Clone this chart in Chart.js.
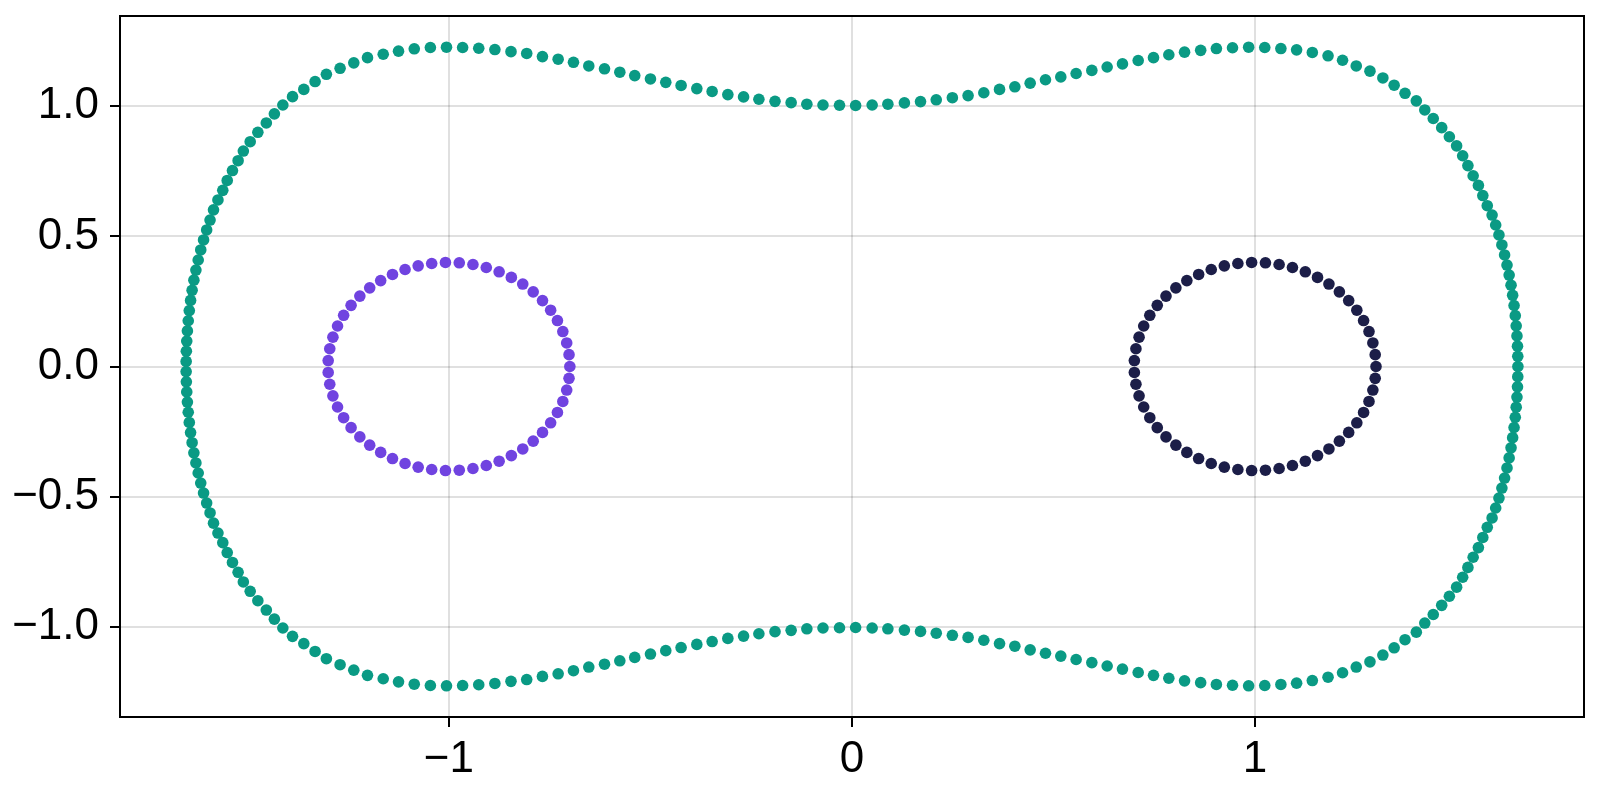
<!DOCTYPE html>
<html>
<head>
<meta charset="utf-8">
<script src="https://cdn.jsdelivr.net/npm/chart.js@4.4.0/dist/chart.umd.min.js"></script>
<style>
  html, body { margin: 0; padding: 0; background: #ffffff; }
  #wrap { width: 1600px; height: 800px; }
</style>
</head>
<body>
<div id="wrap"><canvas id="chart" width="1600" height="800"></canvas></div>
<script>
// outer boundary (teal)
var outerX = [
  1.652, 1.6517, 1.651, 1.6497, 1.6478, 1.6455, 1.6425, 1.639, 1.635, 1.6303, 1.625, 1.619, 1.6123, 1.605, 1.5969, 1.588,
  1.576, 1.565, 1.554, 1.541, 1.528, 1.515, 1.5, 1.482, 1.463, 1.442, 1.421, 1.4, 1.372, 1.345, 1.317, 1.285,
  1.251, 1.217, 1.181, 1.142, 1.103, 1.064, 1.024, 0.984, 0.944, 0.904, 0.865, 0.825, 0.786, 0.748, 0.71, 0.671,
  0.633, 0.595, 0.556, 0.518, 0.48, 0.442, 0.404, 0.366, 0.327, 0.288, 0.249, 0.209, 0.17, 0.13, 0.089, 0.05, 0.009,
  -0.031, -0.072, -0.112, -0.151, -0.191, -0.231, -0.269, -0.308, -0.347, -0.385, -0.424, -0.462, -0.5, -0.539, -0.576, -0.614,
  -0.653, -0.691, -0.729, -0.768, -0.807, -0.846, -0.886, -0.926, -0.966, -1.006, -1.046, -1.086, -1.125, -1.163, -1.202, -1.236,
  -1.27, -1.304, -1.332, -1.36, -1.388, -1.412, -1.433, -1.453, -1.474, -1.493, -1.51, -1.523, -1.537, -1.55, -1.561, -1.573,
  -1.584, -1.5926, -1.601, -1.6087, -1.6157, -1.622, -1.6277, -1.6327, -1.6371, -1.6409, -1.6441, -1.6467, -1.6488, -1.6504, -1.6514, -1.6519,
  -1.6519, -1.6514, -1.6504, -1.6488, -1.6467, -1.6441, -1.6409, -1.6371, -1.6327, -1.6277, -1.622, -1.6157, -1.6087, -1.601, -1.5926, -1.584,
  -1.573, -1.561, -1.55, -1.537, -1.523, -1.51, -1.493, -1.474, -1.453, -1.433, -1.412, -1.388, -1.36, -1.332, -1.304, -1.27,
  -1.236, -1.202, -1.163, -1.125, -1.086, -1.046, -1.006, -0.966, -0.926, -0.886, -0.846, -0.807, -0.768, -0.729, -0.691, -0.653,
  -0.614, -0.576, -0.539, -0.5, -0.462, -0.424, -0.385, -0.347, -0.308, -0.269, -0.231, -0.191, -0.151, -0.112, -0.072, -0.031,
  0.009, 0.05, 0.089, 0.13, 0.17, 0.209, 0.249, 0.288, 0.327, 0.366, 0.404, 0.442, 0.48, 0.518, 0.556, 0.595,
  0.633, 0.671, 0.71, 0.748, 0.786, 0.825, 0.865, 0.904, 0.944, 0.984, 1.024, 1.064, 1.103, 1.142, 1.181, 1.217,
  1.251, 1.285, 1.317, 1.345, 1.372, 1.4, 1.421, 1.442, 1.463, 1.482, 1.5, 1.515, 1.528, 1.541, 1.554, 1.565,
  1.576, 1.588, 1.5969, 1.605, 1.6123, 1.619, 1.625, 1.6303, 1.635, 1.639, 1.6425, 1.6455, 1.6478, 1.6497, 1.651, 1.6517
];
var outerY = [
  0, 0.0391, 0.0782, 0.1174, 0.1564, 0.1955, 0.2345, 0.2734, 0.3124, 0.3513, 0.3899, 0.4286, 0.4671, 0.5056, 0.5438, 0.582,
  0.618, 0.657, 0.696, 0.733, 0.772, 0.81, 0.848, 0.883, 0.918, 0.953, 0.986, 1.021, 1.05, 1.081, 1.109, 1.135,
  1.155, 1.177, 1.194, 1.207, 1.217, 1.222, 1.226, 1.227, 1.225, 1.222, 1.215, 1.208, 1.198, 1.187, 1.176, 1.163,
  1.151, 1.138, 1.126, 1.113, 1.102, 1.089, 1.075, 1.065, 1.052, 1.041, 1.033, 1.025, 1.018, 1.013, 1.008, 1.005, 1.003,
  1.004, 1.005, 1.008, 1.014, 1.019, 1.027, 1.036, 1.045, 1.057, 1.068, 1.08, 1.092, 1.105, 1.118, 1.131, 1.144,
  1.155, 1.169, 1.181, 1.191, 1.203, 1.21, 1.218, 1.223, 1.226, 1.227, 1.226, 1.221, 1.212, 1.2, 1.187, 1.167,
  1.146, 1.123, 1.095, 1.065, 1.037, 1.005, 0.971, 0.936, 0.9, 0.864, 0.828, 0.791, 0.753, 0.715, 0.677, 0.64,
  0.602, 0.5628, 0.5247, 0.4863, 0.4479, 0.4093, 0.3706, 0.3318, 0.2929, 0.254, 0.215, 0.1759, 0.1368, 0.0978, 0.0587, 0.0196,
  -0.0196, -0.0587, -0.0978, -0.1368, -0.1759, -0.215, -0.254, -0.2929, -0.3318, -0.3706, -0.4093, -0.4479, -0.4863, -0.5247, -0.5628, -0.602,
  -0.64, -0.677, -0.715, -0.753, -0.791, -0.828, -0.864, -0.9, -0.936, -0.971, -1.005, -1.037, -1.065, -1.095, -1.123, -1.146,
  -1.167, -1.187, -1.2, -1.212, -1.221, -1.226, -1.227, -1.226, -1.223, -1.218, -1.21, -1.203, -1.191, -1.181, -1.169, -1.155,
  -1.144, -1.131, -1.118, -1.105, -1.092, -1.08, -1.068, -1.057, -1.045, -1.036, -1.027, -1.019, -1.014, -1.008, -1.005, -1.004,
  -1.003, -1.005, -1.008, -1.013, -1.018, -1.025, -1.033, -1.041, -1.052, -1.065, -1.075, -1.089, -1.102, -1.113, -1.126, -1.138,
  -1.151, -1.163, -1.176, -1.187, -1.198, -1.208, -1.215, -1.222, -1.225, -1.227, -1.226, -1.222, -1.217, -1.207, -1.194, -1.177,
  -1.155, -1.135, -1.109, -1.081, -1.05, -1.021, -0.986, -0.953, -0.918, -0.883, -0.848, -0.81, -0.772, -0.733, -0.696, -0.657,
  -0.618, -0.582, -0.5438, -0.5056, -0.4671, -0.4286, -0.3899, -0.3513, -0.3124, -0.2734, -0.2345, -0.1955, -0.1564, -0.1174, -0.0782, -0.0391
];

// left hole (purple)
var leftX = [
  -0.7, -0.702, -0.7078, -0.7174, -0.7308, -0.7476, -0.7678, -0.7909, -0.8168, -0.8451, -0.8754, -0.9073, -0.9404, -0.9743,
  -1.0086, -1.0427, -1.0763, -1.1088, -1.14, -1.1693, -1.1965, -1.221, -1.2427, -1.2612, -1.2763, -1.2878, -1.2956, -1.2995,
  -1.2995, -1.2956, -1.2878, -1.2763, -1.2612, -1.2427, -1.221, -1.1965, -1.1693, -1.14, -1.1088, -1.0763, -1.0427, -1.0086,
  -0.9743, -0.9404, -0.9073, -0.8754, -0.8451, -0.8168, -0.7909, -0.7678, -0.7476, -0.7308, -0.7174, -0.7078, -0.702
];
var leftY = [
  0, 0.0456, 0.0906, 0.1344, 0.1765, 0.2163, 0.2532, 0.2869, 0.3168, 0.3425, 0.3639, 0.3804, 0.392, 0.3985,
  0.3998, 0.3959, 0.3869, 0.3727, 0.3538, 0.3302, 0.3023, 0.2705, 0.2351, 0.1967, 0.1557, 0.1127, 0.0682, 0.0228,
  -0.0228, -0.0682, -0.1127, -0.1557, -0.1967, -0.2351, -0.2705, -0.3023, -0.3302, -0.3538, -0.3727, -0.3869, -0.3959, -0.3998,
  -0.3985, -0.392, -0.3804, -0.3639, -0.3425, -0.3168, -0.2869, -0.2532, -0.2163, -0.1765, -0.1344, -0.0906, -0.0456
];

// right hole (navy)
var rightX = [
  1.3, 1.298, 1.2922, 1.2826, 1.2692, 1.2524, 1.2322, 1.2091, 1.1832, 1.1549, 1.1246, 1.0927, 1.0596, 1.0257,
  0.9914, 0.9573, 0.9237, 0.8912, 0.86, 0.8307, 0.8035, 0.779, 0.7573, 0.7388, 0.7237, 0.7122, 0.7044, 0.7005,
  0.7005, 0.7044, 0.7122, 0.7237, 0.7388, 0.7573, 0.779, 0.8035, 0.8307, 0.86, 0.8912, 0.9237, 0.9573, 0.9914,
  1.0257, 1.0596, 1.0927, 1.1246, 1.1549, 1.1832, 1.2091, 1.2322, 1.2524, 1.2692, 1.2826, 1.2922, 1.298
];
var rightY = [
  0, 0.0456, 0.0906, 0.1344, 0.1765, 0.2163, 0.2532, 0.2869, 0.3168, 0.3425, 0.3639, 0.3804, 0.392, 0.3985,
  0.3998, 0.3959, 0.3869, 0.3727, 0.3538, 0.3302, 0.3023, 0.2705, 0.2351, 0.1967, 0.1557, 0.1127, 0.0682, 0.0228,
  -0.0228, -0.0682, -0.1127, -0.1557, -0.1967, -0.2351, -0.2705, -0.3023, -0.3302, -0.3538, -0.3727, -0.3869, -0.3959, -0.3998,
  -0.3985, -0.392, -0.3804, -0.3639, -0.3425, -0.3168, -0.2869, -0.2532, -0.2163, -0.1765, -0.1344, -0.0906, -0.0456
];

var xTicks = [-1, 0, 1];
var yTicks = [-1, -0.5, 0, 0.5, 1];

function toPoints(xs, ys) {
  return xs.map(function (x, i) {
    return { x: x, y: ys[i] };
  });
}

// tick labels use a real minus sign
function fmt(v, digits) {
  var s = digits ? Number(v).toFixed(digits) : String(v);
  return s.replace('-', '\u2212');
}

function dotSet(label, xs, ys, color) {
  return {
    label: label,
    data: toPoints(xs, ys),
    backgroundColor: color,
    borderWidth: 0,
    pointRadius: 5.8,
    pointHoverRadius: 5.8,
    showLine: false
  };
}

// full frame around the plot area
var framePlugin = {
  id: 'frame',
  afterDraw: function (chart) {
    var a = chart.chartArea;
    var ctx = chart.ctx;
    ctx.save();
    ctx.strokeStyle = '#000000';
    ctx.lineWidth = 2;
    ctx.strokeRect(a.left, a.top, a.right - a.left, a.bottom - a.top);
    ctx.restore();
  }
};

var tickFont = { family: "'Liberation Sans', Arial, sans-serif", size: 44 };

var ctx = document.getElementById('chart').getContext('2d');
var myChart = new Chart(ctx, {
  type: 'scatter',
  data: {
    datasets: [
      dotSet('outer', outerX, outerY, '#0a9a84'),
      dotSet('left', leftX, leftY, '#7043e0'),
      dotSet('right', rightX, rightY, '#1c1e48')
    ]
  },
  options: {
    responsive: false,
    animation: false,
    devicePixelRatio: 1,
    layout: { padding: { left: 0, right: 16, top: 16, bottom: 0 } },
    plugins: {
      legend: { display: false },
      tooltip: { enabled: false }
    },
    scales: {
      x: {
        type: 'linear',
        min: -1.816,
        max: 1.816,
        afterBuildTicks: function (scale) {
          scale.ticks = xTicks.map(function (v) { return { value: v }; });
        },
        afterFit: function (scale) {
          scale.height = 83;
          scale.paddingLeft = 0;
          scale.paddingRight = 0;
        },
        border: { display: false },
        grid: {
          color: 'rgba(0,0,0,0.12)',
          lineWidth: 2,
          drawTicks: true,
          tickLength: 10,
          tickColor: '#000000',
          tickWidth: 2
        },
        ticks: {
          color: '#000000',
          font: tickFont,
          padding: 6,
          maxRotation: 0,
          callback: function (v) { return fmt(v, 0); }
        }
      },
      y: {
        type: 'linear',
        min: -1.347,
        max: 1.347,
        afterBuildTicks: function (scale) {
          scale.ticks = yTicks.map(function (v) { return { value: v }; });
        },
        afterFit: function (scale) {
          scale.width = 120;
          scale.paddingTop = 0;
          scale.paddingBottom = 0;
        },
        border: { display: false },
        grid: {
          color: 'rgba(0,0,0,0.12)',
          lineWidth: 2,
          drawTicks: true,
          tickLength: 10,
          tickColor: '#000000',
          tickWidth: 2
        },
        ticks: {
          color: '#000000',
          font: tickFont,
          padding: 11,
          callback: function (v) { return fmt(v, 1); }
        }
      }
    }
  },
  plugins: [framePlugin]
});
</script>
</body>
</html>
